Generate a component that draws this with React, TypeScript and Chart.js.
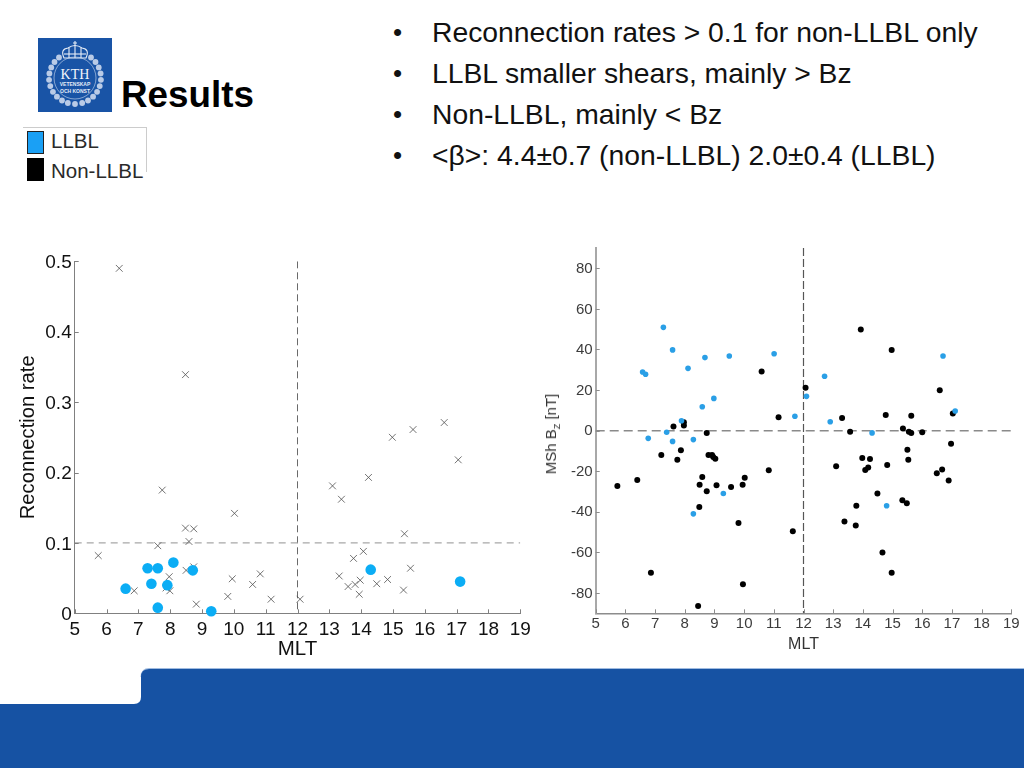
import React, { useEffect, useRef } from "react";
import { Chart, registerables } from "chart.js";

Chart.register(...registerables);

const SANS = '"Liberation Sans", Arial, sans-serif';

const headerBullets = [
  "Reconnection rates > 0.1 for non-LLBL only",
  "LLBL smaller shears, mainly > Bz",
  "Non-LLBL, mainly < Bz",
  "<β>: 4.4±0.7 (non-LLBL) 2.0±0.4 (LLBL)",
];
const slideTitle = "Results";
const legendNames = ["LLBL", "Non-LLBL"];

const mltTicks = [5, 6, 7, 8, 9, 10, 11, 12, 13, 14, 15, 16, 17, 18, 19];
const rateTicks = [0, 0.1, 0.2, 0.3, 0.4, 0.5];
const bzTicks = [-80, -60, -40, -20, 0, 20, 40, 60, 80];

const rateLlblMlt = [6.6, 7.29, 7.61, 7.41, 7.61, 7.91, 8.1, 8.71, 9.29, 14.3, 17.11];
const rateLlblValue = [0.035, 0.064, 0.064, 0.042, 0.008, 0.04, 0.072, 0.061, 0.003, 0.062, 0.045];

const rateNonMlt = [
  6.4, 8.48, 7.75, 10.02, 8.48, 8.74, 8.59, 7.61, 5.74, 8.5, 8.74, 7.97, 9.95, 10.83, 10.59, 7.87, 7.99, 6.87,
  9.81, 11.17, 8.82, 12.08, 13.1, 13.38, 14.23, 14.98, 15.63, 16.61, 17.05, 15.36, 14.07, 13.76, 15.55, 13.31,
  13.97, 14.83, 14.49, 13.59, 13.81, 13.94, 15.33,
];
const rateNonValue = [
  0.49, 0.339, 0.175, 0.142, 0.121, 0.12, 0.102, 0.096, 0.082, 0.061, 0.066, 0.052, 0.049, 0.056, 0.041, 0.036,
  0.032, 0.032, 0.024, 0.02, 0.013, 0.02, 0.181, 0.162, 0.193, 0.25, 0.261, 0.271, 0.218, 0.113, 0.088, 0.078,
  0.064, 0.053, 0.047, 0.048, 0.042, 0.038, 0.041, 0.027, 0.033,
];

const bzLlblMlt = [
  7.28, 7.59, 6.58, 6.68, 8.11, 8.68, 9.5, 11.01, 8.98, 8.59, 7.89, 11.71, 6.77, 7.39, 7.59, 8.29, 9.3, 8.29, 12.1,
  12.71, 12.9, 14.31, 14.8, 16.7, 17.11,
];
const bzLlblValue = [
  50.9, 39.8, 28.9, 27.8, 30.7, 36, 36.8, 37.9, 15.9, 11.8, 4.9, 7.1, -3.8, -0.8, -5.3, -4.4, -31, -41, 16.9, 26.8,
  4.4, -1.1, -37, 36.8, 9.7,
];

const bzNonMlt = [
  5.73, 6.4, 6.86, 7.21, 7.62, 7.75, 7.87, 7.97, 7.97, 8.74, 8.8, 8.92, 8.96, 9.03, 8.59, 8.5, 8.74, 9.07, 9.56,
  9.95, 10.02, 8.49, 9.81, 9.96, 8.45, 10.59, 10.83, 11.16, 11.64, 12.07, 13.3, 13.57, 13.93, 14.97, 14.77, 15.63,
  15.35, 15.55, 15.63, 16.0, 16.59, 17.03, 16.97, 15.5, 15.53, 13.98, 14.24, 14.82, 13.1, 14.18, 14.08, 16.67,
  16.49, 16.89, 14.49, 13.78, 15.33, 15.48, 13.38, 13.76, 14.66, 14.97,
];
const bzNonValue = [
  -27.3, -24.3, -70, -12, 2.1, -14.3, -9.7, 4.1, 2.5, -1.2, -12, -12, -13, -13.8, -22.8, -26.6, -29.9, -26.9, -27.8,
  -26.6, -23.2, -37.6, -45.5, -75.7, -86.4, 29.2, -19.5, 6.6, -49.6, 21.2, 6.2, -0.5, 49.8, 39.8, 7.7, 7.4, 1, -0.5,
  -1.1, -0.8, 19.9, 8.4, -6.4, -9.4, -14.3, -13.5, -14, -16.9, -17.6, -18.1, -19.4, -19.1, -21, -24.6, -31, -37,
  -34.3, -35.8, -44.8, -46.7, -60.1, -70,
];

const noonMlt = [12, 12];
const rateNoonY = [0.5, 0];
const rateThresholdX = [5, 19];
const rateThresholdY = [0.1, 0.1];
const bzNoonY = [90, -90];
const bzZeroX = [5, 19.05];
const bzZeroY = [0, 0];

const zip = (xs: number[], ys: number[]) => xs.map((x, i) => ({ x, y: ys[i] }));

const inwardTicks = (len: number, color: string, width: number) => ({
  id: "inwardTicks",
  afterDraw(chart: any) {
    const { ctx, chartArea, scales } = chart;
    ctx.save();
    ctx.strokeStyle = color;
    ctx.lineWidth = width;
    ctx.beginPath();
    scales.x.ticks.forEach((t: any) => {
      const p = Math.round(scales.x.getPixelForValue(t.value)) + 0.5;
      ctx.moveTo(p, chartArea.bottom);
      ctx.lineTo(p, chartArea.bottom - len);
    });
    scales.y.ticks.forEach((t: any) => {
      const p = Math.round(scales.y.getPixelForValue(t.value)) + 0.5;
      ctx.moveTo(chartArea.left, p);
      ctx.lineTo(chartArea.left + len, p);
    });
    ctx.stroke();
    ctx.restore();
  },
});

const fixScale = (prop: "width" | "height", size: number, tickValues: number[]) => ({
  afterBuildTicks: (s: any) => {
    s.ticks = tickValues.map((value) => ({ value }));
  },
  afterFit: (s: any) => {
    s[prop] = size;
    s.paddingLeft = s.paddingRight = s.paddingTop = s.paddingBottom = 0;
  },
});

function RateChart() {
  const ref = useRef<HTMLCanvasElement>(null);
  useEffect(() => {
    const chart = new Chart(ref.current!, {
      type: "scatter",
      data: {
        datasets: [
          {
            label: "LLBL",
            data: zip(rateLlblMlt, rateLlblValue),
            pointStyle: "circle",
            pointRadius: 5.3,
            backgroundColor: "#0BADF5",
            borderWidth: 0,
            clip: false,
          },
          {
            label: "Non-LLBL",
            data: zip(rateNonMlt, rateNonValue),
            pointStyle: "crossRot",
            pointRadius: 4.8,
            borderColor: "#4f4f4f",
            borderWidth: 0.8,
            clip: false,
          },
          {
            label: "Threshold",
            data: zip(rateThresholdX, rateThresholdY),
            showLine: true,
            pointRadius: 0,
            borderColor: "#a8a8a8",
            borderWidth: 1.2,
            borderDash: [7, 5],
          },
          {
            label: "Noon",
            data: zip(noonMlt, rateNoonY),
            showLine: true,
            pointRadius: 0,
            borderColor: "#6a6a6a",
            borderWidth: 1,
            borderDash: [7, 4],
          },
        ],
      },
      options: {
        animation: false,
        responsive: false,
        layout: { padding: { top: 21.3, right: 19.7, left: 0, bottom: 0 } },
        plugins: { legend: { display: false }, tooltip: { enabled: false } },
        scales: {
          x: {
            type: "linear",
            min: 5,
            max: 19,
            ...fixScale("height", 46.7, mltTicks),
            grid: { display: false, drawTicks: false },
            border: { color: "#808080", width: 1 },
            ticks: {
              autoSkip: false,
              maxRotation: 0,
              padding: 5,
              color: "#111",
              font: { family: SANS, size: 19 },
            },
            title: {
              display: true,
              text: "MLT",
              color: "#111",
              font: { family: SANS, size: 20.5 },
              padding: { top: 0, bottom: -2 },
            },
          },
          y: {
            type: "linear",
            min: 0,
            max: 0.5,
            ...fixScale("width", 74.7, rateTicks),
            grid: { display: false, drawTicks: false },
            border: { color: "#808080", width: 1 },
            ticks: {
              autoSkip: false,
              padding: 3,
              labelOffset: 1.5,
              color: "#111",
              font: { family: SANS, size: 19 },
              callback: (v: any) => String(v),
            },
            title: {
              display: true,
              text: "Reconnection rate",
              color: "#111",
              font: { family: SANS, size: 20.2 },
              padding: { top: 16, bottom: 16 },
            },
          },
        },
      },
      plugins: [inwardTicks(4, "#808080", 1)],
    } as any);
    return () => chart.destroy();
  }, []);
  return (
    <canvas ref={ref} width={540} height={420} style={{ position: "absolute", left: 0, top: 240, width: 540, height: 420 }} />
  );
}

function BzChart() {
  const ref = useRef<HTMLCanvasElement>(null);
  useEffect(() => {
    const chart = new Chart(ref.current!, {
      type: "scatter",
      data: {
        datasets: [
          {
            label: "LLBL",
            data: zip(bzLlblMlt, bzLlblValue),
            pointStyle: "circle",
            pointRadius: 2.8,
            backgroundColor: "#2A9FE6",
            borderWidth: 0,
            clip: false,
          },
          {
            label: "Non-LLBL",
            data: zip(bzNonMlt, bzNonValue),
            pointStyle: "circle",
            pointRadius: 3,
            backgroundColor: "#000000",
            borderWidth: 0,
            clip: false,
          },
          {
            label: "Zero",
            data: zip(bzZeroX, bzZeroY),
            showLine: true,
            pointRadius: 0,
            borderColor: "#8a8a8a",
            borderWidth: 1.5,
            borderDash: [9, 5],
            clip: false,
          },
          {
            label: "Noon",
            data: zip(noonMlt, bzNoonY),
            showLine: true,
            pointRadius: 0,
            borderColor: "#555",
            borderWidth: 1.2,
            borderDash: [8, 3],
          },
        ],
      },
      options: {
        animation: false,
        responsive: false,
        layout: { padding: { top: 8, right: 12.7, left: 0, bottom: 0 } },
        plugins: { legend: { display: false }, tooltip: { enabled: false } },
        scales: {
          x: {
            type: "linear",
            min: 5,
            max: 19,
            ...fixScale("height", 46.7, mltTicks),
            grid: { display: false, drawTicks: false },
            border: { color: "#8c8c8c", width: 1.5 },
            ticks: {
              autoSkip: false,
              maxRotation: 0,
              padding: 2,
              color: "#3c3c3c",
              font: { family: SANS, size: 15 },
            },
            title: {
              display: true,
              text: "MLT",
              color: "#333",
              font: { family: SANS, size: 16 },
              padding: { top: 0, bottom: 6 },
            },
          },
          y: {
            type: "linear",
            min: -90,
            max: 90,
            ...fixScale("width", 55.7, bzTicks),
            grid: { display: false, drawTicks: false },
            border: { color: "#a8a8a8", width: 2 },
            ticks: {
              autoSkip: false,
              padding: 3,
              labelOffset: 0.5,
              color: "#3c3c3c",
              font: { family: SANS, size: 15 },
              callback: (v: any) => String(v),
            },
          },
        },
      },
      plugins: [inwardTicks(4, "#8c8c8c", 1)],
    } as any);
    return () => chart.destroy();
  }, []);
  return (
    <canvas ref={ref} width={484} height={420} style={{ position: "absolute", left: 540, top: 240, width: 484, height: 420 }} />
  );
}

const wreathAngles = [38, 52, 66, 80, 94, 108, 122, 136, 150, 164, 180, 196, 210, 224, 238, 252, 266, 280, 294, 308, 322];

function Logo() {
  return (
    <svg width={74} height={74} viewBox="0 0 74 74" style={{ position: "absolute", left: 38, top: 38 }}>
      <rect width={74} height={74} fill="#1954A6" />
      <g fill="none" stroke="#e6edf7" strokeWidth={1.1}>
        <path d="M26 20 Q22 11 30 10 Q37 5 44 10 Q52 11 48 20 Z" />
        <path d="M37 3 V8 M35 5 H39 M31 10 V20 M37 8 V20 M43 10 V20" />
        <path d="M26 16 H48" />
      </g>
      <circle cx={37} cy={40} r={21} fill="none" stroke="#cfdcf0" strokeWidth={0.6} />
      {wreathAngles.map((a) => {
        const r = (a * Math.PI) / 180;
        const cx = 37 + 26 * Math.sin(r);
        const cy = 40 - 26 * Math.cos(r);
        return <circle key={a} cx={cx} cy={cy} r={2.9} fill="#d6e1f2" opacity={0.85} />;
      })}
      <text x={37} y={41} textAnchor="middle" fontFamily='"Liberation Serif", serif' fontSize={14} fill="#f2f5fb">
        KTH
      </text>
      <text x={37} y={48} textAnchor="middle" fontFamily={SANS} fontSize={5} fontWeight={700} fill="#e3ebf6">
        VETENSKAP
      </text>
      <text x={37} y={55} textAnchor="middle" fontFamily={SANS} fontSize={5} fontWeight={700} fill="#e3ebf6">
        OCH KONST
      </text>
    </svg>
  );
}

function Footer() {
  return (
    <svg width={1024} height={102} viewBox="0 666 1024 102" style={{ position: "absolute", left: 0, top: 666 }}>
      <path d="M141 677 Q141 668.5 149 668.5 H1024" fill="none" stroke="#9fbbe0" strokeWidth={1} />
      <path d="M0 704 H134 Q141 704 141 697 V677 Q141 669 149 669 H1024 V768 H0 Z" fill="#1652A3" />
    </svg>
  );
}

const bulletY = [32, 73, 114, 155];

export default function App() {
  return (
    <div style={{ position: "fixed", left: 0, top: 0, width: 1024, height: 768, background: "#fff", overflow: "hidden", fontFamily: SANS }}>
      {headerBullets.map((t, i) => (
        <React.Fragment key={t}>
          <div style={{ position: "absolute", left: 393, top: bulletY[i] - 16, lineHeight: "32px", fontSize: 26, color: "#111" }}>•</div>
          <div style={{ position: "absolute", left: 432, top: bulletY[i] - 16, lineHeight: "32px", fontSize: 28.3, color: "#111", whiteSpace: "nowrap" }}>{t}</div>
        </React.Fragment>
      ))}
      <Logo />
      <div style={{ position: "absolute", left: 121, top: 73, lineHeight: "44px", fontSize: 36.8, fontWeight: 700, color: "#000" }}>{slideTitle}</div>

      <div style={{ position: "absolute", left: 23, top: 127, width: 123, height: 44, borderTop: "1px solid #ccc", borderRight: "1px solid #ccc" }} />
      <div style={{ position: "absolute", left: 27, top: 131, width: 15, height: 21, background: "#1AA0F5", border: "1px solid #222" }} />
      <div style={{ position: "absolute", left: 27, top: 158, width: 17, height: 23, background: "#000" }} />
      <div style={{ position: "absolute", left: 51, top: 129, lineHeight: "24px", fontSize: 20.5, color: "#2a2a2a" }}>{legendNames[0]}</div>
      <div style={{ position: "absolute", left: 51, top: 159, lineHeight: "24px", fontSize: 20.5, color: "#2a2a2a" }}>{legendNames[1]}</div>

      <RateChart />
      <BzChart />
      <div
        style={{
          position: "absolute",
          left: 550.5,
          top: 434,
          transform: "translate(-50%, -50%) rotate(-90deg)",
          fontSize: 15,
          color: "#333",
          whiteSpace: "nowrap",
          lineHeight: "16px",
        }}
      >
        MSh B<sub style={{ fontSize: 9, lineHeight: 0 }}>Z</sub> [nT]
      </div>
      <Footer />
    </div>
  );
}
